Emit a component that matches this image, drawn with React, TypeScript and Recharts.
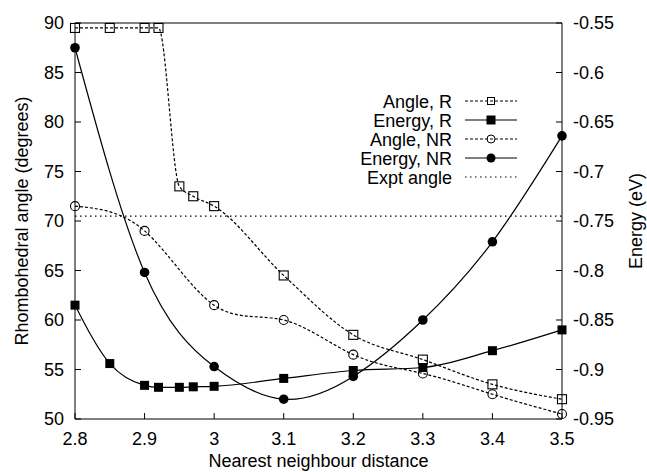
import React from 'react';
import { LineChart, Line, XAxis, YAxis, ReferenceLine, Legend } from 'recharts';

const xTicks = [2.8, 2.9, 3, 3.1, 3.2, 3.3, 3.4, 3.5];
const angleTicks = [50, 55, 60, 65, 70, 75, 80, 85, 90];
const energyTicks = [-0.95, -0.9, -0.85, -0.8, -0.75, -0.7, -0.65, -0.6, -0.55];

// relativistic runs
const distR = [2.8, 2.85, 2.9, 2.92, 2.95, 2.97, 3, 3.1, 3.2, 3.3, 3.4, 3.5];
const angleR = [89.5, 89.5, 89.5, 89.5, 73.5, 72.5, 71.5, 64.5, 58.5, 56, 53.5, 52];
const energyR = [-0.835, -0.894, -0.916, -0.918, -0.918, -0.9175, -0.917, -0.909, -0.901, -0.898, -0.881, -0.86];

// non-relativistic runs
const distNR = [2.8, 2.9, 3, 3.1, 3.2, 3.3, 3.4, 3.5];
const angleNR = [71.5, 69, 61.5, 60, 56.5, 54.6, 52.5, 50.5];
const energyNR = [-0.575, -0.802, -0.897, -0.93, -0.907, -0.85, -0.771, -0.664];

const exptAngle = 70.5;

const legendNames = ['Angle, R', 'Energy, R', 'Angle, NR', 'Energy, NR', 'Expt angle'];

const FONT = '"Liberation Sans", Arial, Helvetica, sans-serif';
const FS = 18;

const rData = distR.map((d, i) => ({ d, angle: angleR[i], energy: energyR[i] }));
const nrData = distNR.map((d, i) => ({ d, angle: angleNR[i], energy: energyNR[i] }));

type DotProps = { cx?: number; cy?: number; index?: number };

const openSquare = (p: DotProps) =>
  p.cx == null || p.cy == null ? null : (
    <rect key={`os${p.index}`} x={p.cx - 4.5} y={p.cy - 4.5} width={9} height={9} fill="none" stroke="#000" strokeWidth={1.1} />
  );
const filledSquare = (p: DotProps) =>
  p.cx == null || p.cy == null ? null : (
    <rect key={`fs${p.index}`} x={p.cx - 4.5} y={p.cy - 4.5} width={9} height={9} fill="#000" />
  );
const openCircle = (p: DotProps) =>
  p.cx == null || p.cy == null ? null : (
    <circle key={`oc${p.index}`} cx={p.cx} cy={p.cy} r={4.5} fill="none" stroke="#000" strokeWidth={1.1} />
  );
const filledCircle = (p: DotProps) =>
  p.cx == null || p.cy == null ? null : (
    <circle key={`fc${p.index}`} cx={p.cx} cy={p.cy} r={4.8} fill="#000" />
  );

const legendStyles = [
  { dash: '3 2', marker: (x: number, y: number) => <rect x={x - 3.5} y={y - 3.5} width={7} height={7} fill="none" stroke="#000" strokeWidth={1} /> },
  { dash: undefined, marker: (x: number, y: number) => <rect x={x - 4.5} y={y - 4.5} width={9} height={9} fill="#000" /> },
  { dash: '3 2', marker: (x: number, y: number) => <circle cx={x} cy={y} r={4} fill="none" stroke="#000" strokeWidth={1} /> },
  { dash: undefined, marker: (x: number, y: number) => <circle cx={x} cy={y} r={4.5} fill="#000" /> },
  { dash: '1.5 3.5', marker: () => null },
];

const renderLegend = () => (
  <svg width={647} height={200} style={{ display: 'block' }}>
    {legendNames.map((name, i) => {
      const cy = 101 + i * 19;
      const s = legendStyles[i];
      return (
        <g key={name}>
          <text x={452} y={cy + 6.5} textAnchor="end" fontSize={FS} fontFamily={FONT} fill="#000">
            {name}
          </text>
          <line x1={465} x2={517} y1={cy} y2={cy} stroke="#000" strokeWidth={1.2} strokeDasharray={s.dash} />
          {s.marker(491, cy)}
        </g>
      );
    })}
  </svg>
);

const tickStyle = { fill: '#000', fontSize: FS, fontFamily: FONT };

export default function App() {
  return (
    <div style={{ position: 'absolute', left: 0, top: 0, background: '#fff' }}>
      <LineChart width={647} height={472} margin={{ top: 22, right: 0, bottom: 0, left: 0 }}>
        <XAxis
          dataKey="d"
          type="number"
          domain={[2.8, 3.5]}
          ticks={xTicks}
          interval={0}
          allowDuplicatedCategory={false}
          height={53}
          tickSize={-6}
          tickMargin={19}
          stroke="#000"
          tick={tickStyle}
          label={{ value: 'Nearest neighbour distance', position: 'insideBottom', offset: 5, fill: '#000', fontSize: FS, fontFamily: FONT }}
        />
        <XAxis
          xAxisId="top"
          orientation="top"
          dataKey="d"
          type="number"
          domain={[2.8, 3.5]}
          ticks={xTicks}
          interval={0}
          height={1}
          tickSize={-6}
          stroke="#000"
          tickFormatter={() => ''}
        />
        <YAxis
          yAxisId="left"
          type="number"
          domain={[50, 90]}
          ticks={angleTicks}
          interval={0}
          width={75}
          tickSize={-6}
          tickMargin={17}
          stroke="#000"
          tick={tickStyle}
          label={{ value: 'Rhombohedral angle (degrees)', angle: -90, position: 'center', dx: -16, fill: '#000', fontSize: FS, fontFamily: FONT }}
        />
        <YAxis
          yAxisId="right"
          orientation="right"
          type="number"
          domain={[-0.95, -0.55]}
          ticks={energyTicks}
          interval={0}
          width={85}
          tickSize={-6}
          tickMargin={17}
          stroke="#000"
          tick={tickStyle}
          label={{ value: 'Energy (eV)', angle: -90, position: 'center', dx: 31, fill: '#000', fontSize: FS, fontFamily: FONT }}
        />
        <ReferenceLine yAxisId="left" y={exptAngle} stroke="#000" strokeWidth={1.2} strokeDasharray="1.5 3.5" />
        <Line
          data={rData}
          yAxisId="left"
          dataKey="angle"
          type="monotone"
          stroke="#000"
          strokeWidth={1.2}
          strokeDasharray="3 2"
          dot={openSquare}
          isAnimationActive={false}
        />
        <Line
          data={rData}
          yAxisId="right"
          dataKey="energy"
          type="monotone"
          stroke="#000"
          strokeWidth={1.2}
          dot={filledSquare}
          isAnimationActive={false}
        />
        <Line
          data={nrData}
          yAxisId="left"
          dataKey="angle"
          type="natural"
          stroke="#000"
          strokeWidth={1.2}
          strokeDasharray="3 2"
          dot={openCircle}
          isAnimationActive={false}
        />
        <Line
          data={nrData}
          yAxisId="right"
          dataKey="energy"
          type="natural"
          stroke="#000"
          strokeWidth={1.2}
          dot={filledCircle}
          isAnimationActive={false}
        />
        <Legend
          layout="horizontal"
          verticalAlign="middle"
          align="center"
          content={renderLegend}
          wrapperStyle={{ left: 0, top: 0, width: 647, height: 200, pointerEvents: 'none' }}
        />
      </LineChart>
    </div>
  );
}
